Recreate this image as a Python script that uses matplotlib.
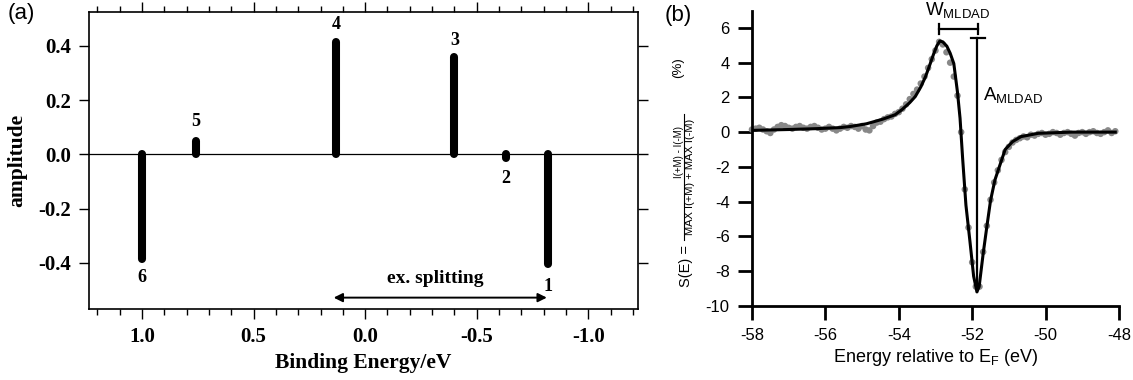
import numpy as np
import matplotlib.pyplot as plt
from matplotlib.lines import Line2D
from matplotlib.ticker import MultipleLocator

plt.rcParams['axes.unicode_minus'] = False
plt.rcParams['mathtext.fontset'] = 'custom'
plt.rcParams['mathtext.rm'] = 'Liberation Sans'
plt.rcParams['mathtext.it'] = 'Liberation Sans:italic'
plt.rcParams['mathtext.bf'] = 'Liberation Sans:bold'

# panel (a): peak positions / amplitudes
peak_energy = [-0.82, -0.63, -0.40, 0.13, 0.76, 1.00]
peak_amp = [-0.405, -0.015, 0.36, 0.415, 0.05, -0.385]
peak_label = ['1', '2', '3', '4', '5', '6']
label_y = [-0.486, -0.09, 0.42, 0.48, 0.123, -0.454]
split_from, split_to = 0.141, -0.814

# panel (b): measured MLDAD points
dot_e = [-58.0, -57.9, -57.8, -57.7, -57.6, -57.5, -57.4, -57.3, -57.2, -57.1,
         -57.0, -56.9, -56.8, -56.7, -56.6, -56.5, -56.4, -56.3, -56.2, -56.1,
         -56.0, -55.9, -55.8, -55.7, -55.6, -55.5, -55.4, -55.3, -55.2, -55.1,
         -55.0, -54.9, -54.8, -54.7, -54.6, -54.5, -54.4, -54.3, -54.2, -54.1,
         -54.0, -53.9, -53.8, -53.7, -53.6, -53.5, -53.4, -53.3, -53.2, -53.1,
         -53.0, -52.9, -52.8, -52.7, -52.6, -52.5, -52.4, -52.3, -52.2, -52.1,
         -52.0, -51.9, -51.8, -51.7, -51.6, -51.5, -51.4, -51.3, -51.2, -51.1,
         -51.0, -50.9, -50.8, -50.7, -50.6, -50.5, -50.4, -50.3, -50.2, -50.1,
         -50.0, -49.9, -49.8, -49.7, -49.6, -49.5, -49.4, -49.3, -49.2, -49.1,
         -49.0, -48.9, -48.8, -48.7, -48.6, -48.5, -48.4, -48.3, -48.2, -48.1]
dot_s = [0.15, 0.2, 0.25, 0.15, 0.05, -0.05, 0.15, 0.3, 0.4, 0.35,
         0.25, 0.2, 0.3, 0.35, 0.25, 0.2, 0.3, 0.35, 0.25, 0.15,
         0.2, 0.3, 0.2, 0.1, 0.2, 0.3, 0.25, 0.35, 0.3, 0.2,
         0.35, 0.15, 0.1, 0.35, 0.55, 0.6, 0.75, 0.85, 0.9, 1.05,
         1.15, 1.35, 1.6, 1.9, 2.2, 2.45, 2.8, 3.2, 3.7, 4.2,
         4.7, 5.2, 5.05, 4.6, 4.0, 3.2, 2.1, 0.0, -3.3, -5.5,
         -7.5, -8.9, -8.9, -6.9, -5.4, -3.9, -2.9, -2.2, -1.6, -1.15,
         -0.85, -0.6, -0.45, -0.35, -0.25, -0.3, -0.15, -0.2, -0.1, -0.05,
         -0.15, -0.1, 0.0, -0.05, -0.15, -0.05, 0.0, -0.1, -0.2, -0.05,
         0.0, -0.1, 0.0, 0.05, -0.05, -0.1, 0.0, 0.1, -0.05, 0.05]

# fitted curve
fit_e = [-58.0, -57.0, -56.24, -55.6, -55.33, -54.88, -54.43, -54.1, -53.91,
         -53.7, -53.55, -53.4, -53.27, -53.15, -53.05, -52.96, -52.88, -52.8,
         -52.69, -52.6, -52.5, -52.4, -52.33, -52.26, -52.17, -52.06,
         -51.96, -51.87, -51.81, -51.7, -51.6, -51.5, -51.38, -51.26, -51.1,
         -50.9, -50.67, -50.2, -49.3, -48.1]
fit_s = [0.1, 0.15, 0.2, 0.26, 0.32, 0.48, 0.75, 1.0, 1.3,
         1.7, 2.05, 2.6, 3.2, 3.9, 4.5, 4.98, 5.25, 5.2,
         4.95, 4.55, 3.95, 2.3, 0.8, -1.5, -4.2, -6.3,
         -8.3, -9.2, -8.9, -7.0, -5.45, -3.95, -2.76, -2.0, -1.0,
         -0.55, -0.26, -0.07, 0.0, 0.0]

a_mldad_e = -51.87
a_top, a_bottom = 5.45, -9.2
w_from, w_to, w_y = -52.9, -51.85, 5.93

fig = plt.figure(figsize=(11.33, 3.8), dpi=100)
axa = fig.add_axes([0.0786, 0.1868, 0.4846, 0.7816])
axb = fig.add_axes([0.6637, 0.1955, 0.3239, 0.7766])

# ---- (a)
serif = dict(family='Liberation Serif', weight='bold')
axa.axhline(0, color='black', lw=0.9, zorder=1)
for e, a in zip(peak_energy, peak_amp):
    axa.plot([e, e], [0, a], color='black', lw=5.8, solid_capstyle='round', zorder=2)
for e, t, ly in zip(peak_energy, peak_label, label_y):
    axa.text(e, ly, t, ha='center', va='center', fontsize=13, **serif)
axa.annotate('', xy=(split_to, -0.528), xytext=(split_from, -0.528),
             arrowprops=dict(arrowstyle='<|-|>', color='black', lw=1.4,
                             mutation_scale=13, shrinkA=0, shrinkB=0))
axa.text(-0.316, -0.458, 'ex. splitting', ha='center', va='center', fontsize=14, **serif)

axa.set_xlim(1.237, -1.223)
axa.set_ylim(-0.57, 0.525)
xt = [1.0, 0.5, 0.0, -0.5, -1.0]
yt = [-0.4, -0.2, 0.0, 0.2, 0.4]
axa.set_xticks(xt, labels=[f'{v:.1f}' for v in xt], fontsize=15, **serif)
axa.set_yticks(yt, labels=[f'{v:.1f}' for v in yt], fontsize=15, **serif)
axa.xaxis.set_minor_locator(MultipleLocator(0.1))
axa.tick_params(which='both', direction='out', top=True, right=True, width=1.0)
axa.tick_params(which='major', length=7, pad=6)
axa.tick_params(which='minor', length=4)
for sp in axa.spines.values():
    sp.set_linewidth(1.2)
axa.set_xlabel('Binding Energy/eV', fontsize=15.5, labelpad=4, **serif)
axa.set_ylabel('amplitude', fontsize=15.5, labelpad=8, **serif)

# ---- (b)
sans = 'Liberation Sans'
axb.scatter(dot_e, dot_s, s=22, color='#888888', edgecolors='none', zorder=2, clip_on=False)
axb.plot(fit_e, fit_s, color='black', lw=2.2, zorder=3)
axb.plot([a_mldad_e, a_mldad_e], [a_bottom, a_top], color='black', lw=1.6, zorder=4)
axb.plot([-52.04, -51.65], [a_top, a_top], color='black', lw=1.6, zorder=4)
axb.plot([w_from, w_to], [w_y, w_y], color='black', lw=1.6, clip_on=False)
for xe in (w_from, w_to):
    axb.plot([xe, xe], [w_y + 0.3, w_y - 0.3], color='black', lw=1.6, clip_on=False)
axb.text(-52.4, 6.72, r'W$_{\rm MLDAD}$', ha='center', va='baseline', fontsize=13.5, family=sans)
axb.text(-51.7, 1.85, r'A$_{\rm MLDAD}$', ha='left', va='baseline', fontsize=13.5, family=sans)

axb.set_xlim(-58, -48)
axb.set_ylim(-10, 7)
xb = [-58, -56, -54, -52, -50, -48]
yb = [-10, -8, -6, -4, -2, 0, 2, 4, 6]
axb.set_xticks(xb, labels=[str(v) for v in xb], fontsize=12, family=sans)
axb.set_yticks(yb, labels=[str(v) for v in yb], fontsize=12, family=sans)
axb.spines['top'].set_visible(False)
axb.spines['right'].set_visible(False)
axb.spines['left'].set_linewidth(2)
axb.spines['bottom'].set_linewidth(2)
axb.tick_params(direction='out', length=10, width=2, pad=6)
axb.set_xlabel(r'Energy relative to E$_{\rm F}$ (eV)', fontsize=13, family=sans, labelpad=3)

# y label of (b), built as a rotated fraction
W, H = 1133, 380
def ftext(px, py, s, size):
    fig.text(px / W, 1 - py / H, s, rotation=90, ha='center', va='center',
             fontsize=size, family=sans)
ftext(686, 266, 'S(E) =', 10.5)
ftext(678.5, 152, 'I(+M) - I(-M)', 7)
ftext(690, 177, 'MAX I(+M) + MAX I(-M)', 8)
ftext(678, 68, '(%)', 9.5)
fig.add_artist(Line2D([684 / W, 684 / W], [1 - 114 / H, 1 - 240 / H],
                      transform=fig.transFigure, color='black', lw=0.8))

fig.text(8 / W, 1 - 14 / H, '(a)', ha='left', va='center', fontsize=16, family=sans)
fig.text(665 / W, 1 - 16 / H, '(b)', ha='left', va='center', fontsize=16, family=sans)

fig.savefig('out.png', dpi=100)
